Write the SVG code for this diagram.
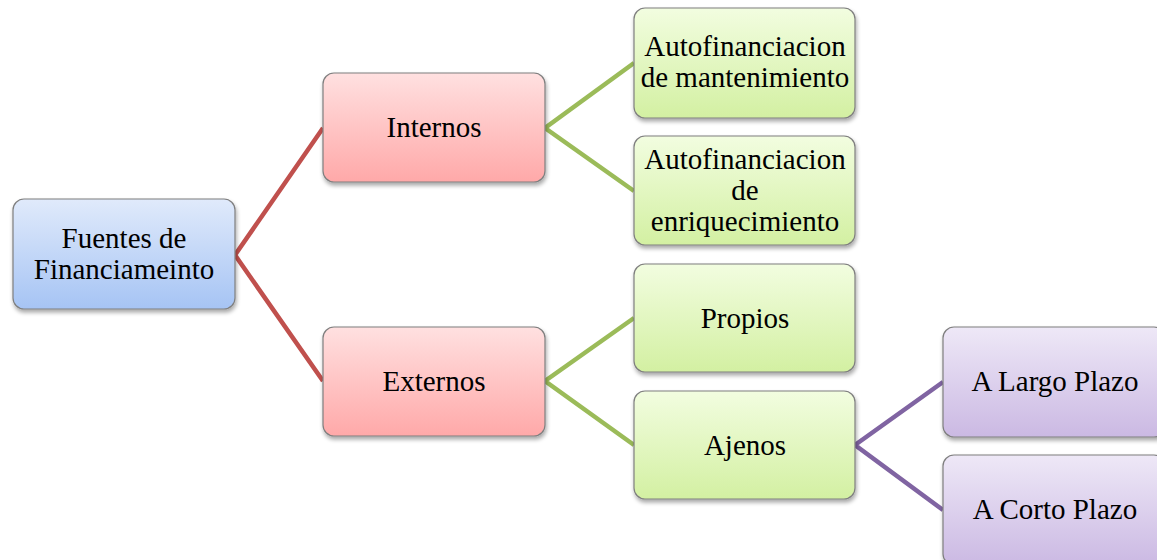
<svg xmlns="http://www.w3.org/2000/svg" width="1157" height="560" viewBox="0 0 1157 560">
<style>
.box{stroke:#7f7f7f;stroke-width:1.2;filter:url(#sh)}
.t{font-family:"Liberation Serif","Times New Roman",serif;font-size:29px;fill:#000;text-anchor:middle}
.c{fill:none;stroke-width:4.5;stroke-linejoin:miter}
</style>
<defs>
<linearGradient id="gb" x1="0" y1="0" x2="0" y2="1"><stop offset="0" stop-color="#e0eafb"/><stop offset="1" stop-color="#a6c4f4"/></linearGradient>
<linearGradient id="gr" x1="0" y1="0" x2="0" y2="1"><stop offset="0" stop-color="#ffe0e0"/><stop offset="1" stop-color="#ffa9a9"/></linearGradient>
<linearGradient id="gg" x1="0" y1="0" x2="0" y2="1"><stop offset="0" stop-color="#f2fde0"/><stop offset="1" stop-color="#d3f0a2"/></linearGradient>
<linearGradient id="gp" x1="0" y1="0" x2="0" y2="1"><stop offset="0" stop-color="#eee8f7"/><stop offset="1" stop-color="#cbb9e3"/></linearGradient>
<filter id="sh" x="-10%" y="-10%" width="130%" height="130%"><feGaussianBlur in="SourceAlpha" stdDeviation="2"/><feOffset dx="1" dy="3"/><feComponentTransfer><feFuncA type="linear" slope="0.35"/></feComponentTransfer><feMerge><feMergeNode/><feMergeNode in="SourceGraphic"/></feMerge></filter>
</defs>
<g id="connectors">
<polyline class="c" stroke="#c0504d" points="323,128 235,255 323,381"/>
<polyline class="c" stroke="#9bbb59" points="634,63 545,128 634,191"/>
<polyline class="c" stroke="#9bbb59" points="634,318 545,381 634,445"/>
<polyline class="c" stroke="#8064a2" points="943,382 855,445 943,510"/>
</g>
<g id="n-root"><rect class="box" x="13" y="199" width="222" height="110" rx="11" fill="url(#gb)"/><text class="t" x="124" y="248">Fuentes de</text><text class="t" x="124" y="279">Financiameinto</text></g>
<g id="n-internos"><rect class="box" x="323" y="73" width="222" height="109" rx="11" fill="url(#gr)"/><text class="t" x="434" y="137">Internos</text></g>
<g id="n-externos"><rect class="box" x="323" y="327" width="222" height="109" rx="11" fill="url(#gr)"/><text class="t" x="434" y="391">Externos</text></g>
<g id="n-auto1"><rect class="box" x="634" y="8" width="221" height="110" rx="11" fill="url(#gg)"/><text class="t" x="745" y="56">Autofinanciacion</text><text class="t" x="745" y="87">de mantenimiento</text></g>
<g id="n-auto2"><rect class="box" x="634" y="136" width="221" height="109" rx="11" fill="url(#gg)"/><text class="t" x="745" y="169">Autofinanciacion</text><text class="t" x="745" y="200">de</text><text class="t" x="745" y="231">enriquecimiento</text></g>
<g id="n-propios"><rect class="box" x="634" y="264" width="221" height="108" rx="11" fill="url(#gg)"/><text class="t" x="745" y="328">Propios</text></g>
<g id="n-ajenos"><rect class="box" x="634" y="391" width="221" height="108" rx="11" fill="url(#gg)"/><text class="t" x="745" y="455">Ajenos</text></g>
<g id="n-largo"><rect class="box" x="943" y="327" width="222" height="110" rx="11" fill="url(#gp)"/><text class="t" x="1055" y="391">A Largo Plazo</text></g>
<g id="n-corto"><rect class="box" x="943" y="455" width="222" height="110" rx="11" fill="url(#gp)"/><text class="t" x="1055" y="519">A Corto Plazo</text></g>
</svg>
